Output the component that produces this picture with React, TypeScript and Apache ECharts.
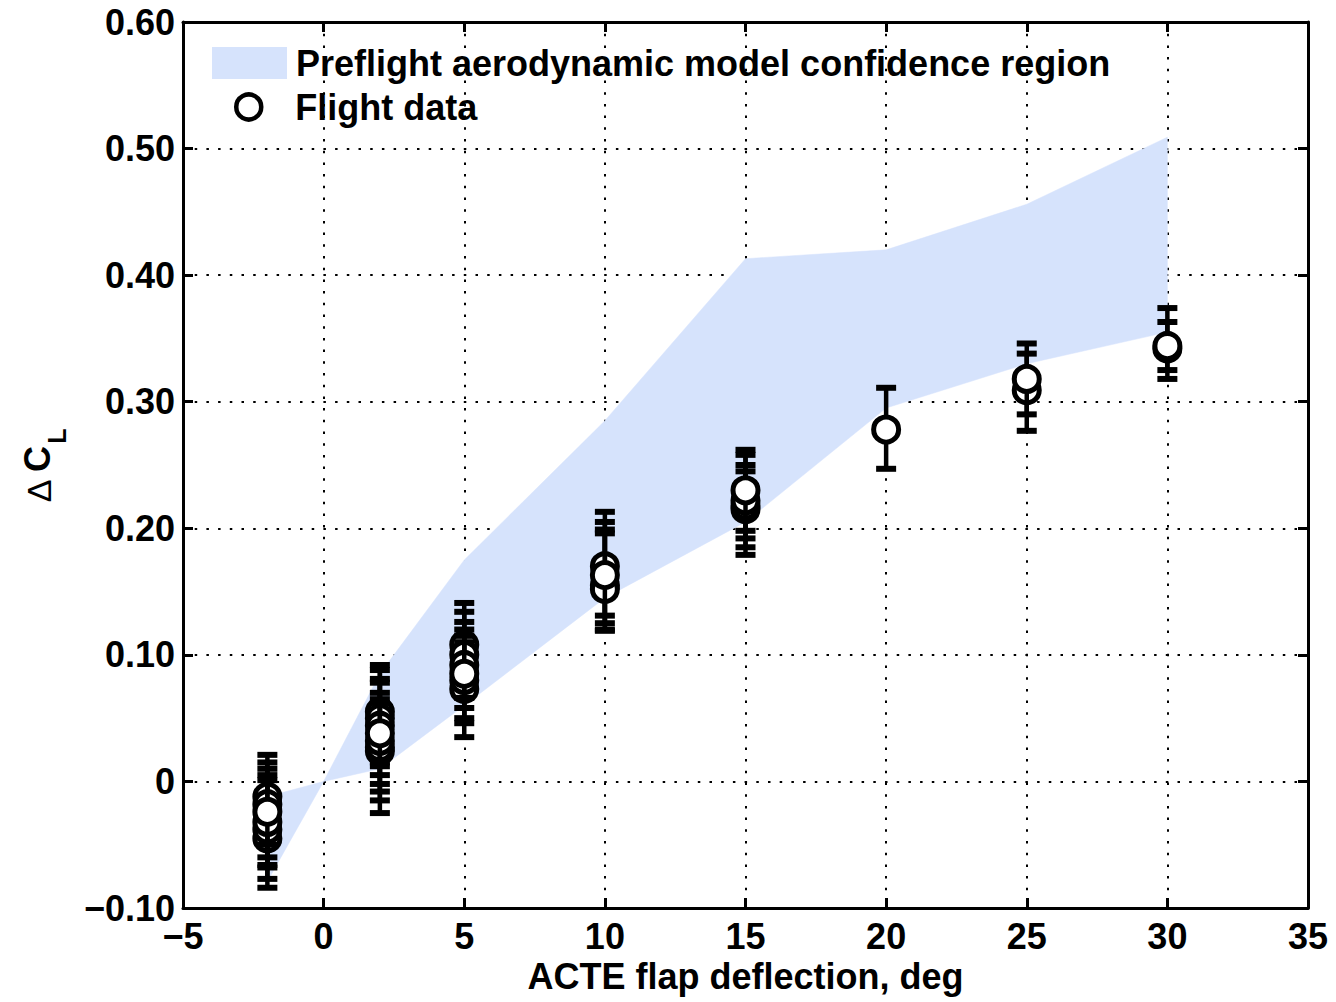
import { useEffect, useRef } from 'react';
import * as echarts from 'echarts';

// Confidence region (preflight aerodynamic model)
const bandX = [-2, 0, 2, 5, 10, 15, 20, 25, 30];
const bandUpper = [-0.012, 0, 0.085, 0.175, 0.285, 0.413, 0.42, 0.456, 0.509];
const bandLower = [-0.079, 0, 0.01, 0.06, 0.145, 0.205, 0.295, 0.33, 0.355];

// Flight data with error bounds
const flightX = [
  -2, -2, -2, -2, -2, -2,
  2, 2, 2, 2, 2, 2, 2,
  5, 5, 5, 5, 5, 5,
  10, 10, 10, 10,
  15, 15, 15, 15,
  20,
  25, 25,
  30, 30,
];
const flightY = [
  -0.045, -0.012, -0.038, -0.018, -0.032, -0.024,
  0.055, 0.024, 0.05, 0.027, 0.044, 0.032, 0.038,
  0.108, 0.073, 0.1, 0.08, 0.092, 0.085,
  0.155, 0.17, 0.152, 0.163,
  0.215, 0.218, 0.222, 0.23,
  0.278,
  0.309, 0.318,
  0.342, 0.344,
];
const flightLow = [
  -0.084, -0.05, -0.077, -0.06, -0.068, -0.066,
  0.015, -0.025, 0.012, -0.015, 0.005, -0.008, -0.002,
  0.075, 0.035, 0.066, 0.046, 0.058, 0.05,
  0.119, 0.131, 0.12, 0.125,
  0.179, 0.192, 0.185, 0.198,
  0.247,
  0.277, 0.29,
  0.325, 0.318,
];
const flightHigh = [
  -0.006, 0.021, 0.001, 0.01, 0.005, 0.015,
  0.092, 0.062, 0.088, 0.065, 0.081, 0.07, 0.078,
  0.141, 0.11, 0.134, 0.115, 0.126, 0.12,
  0.199, 0.213, 0.196, 0.205,
  0.25, 0.245, 0.258, 0.262,
  0.311,
  0.338, 0.346,
  0.363, 0.374,
];

const xTickMin = -5;
const xTickMax = 35;
const xTickStep = 5;
const yTickMin = -0.1;
const yTickMax = 0.6;
const yTickStep = 0.1;

const BAND_NAME = 'Preflight aerodynamic model confidence region';
const FLIGHT_NAME = 'Flight data';
const X_TITLE = 'ACTE flap deflection, deg';

const FONT = '"Liberation Sans", Arial, Helvetica, sans-serif';
const BAND_COLOR = '#d6e3fc';

export default function App() {
  const ref = useRef<HTMLDivElement>(null);
  useEffect(() => {
    const chart = echarts.init(ref.current!, null, { renderer: 'svg' });
    const bandData = bandX.map((x, i) => [x, bandLower[i], bandUpper[i]]);
    const flightData = flightX.map((x, i) => [x, flightY[i], flightLow[i], flightHigh[i]]);

    const labelStyle = { fontFamily: FONT, fontSize: 36, fontWeight: 'bold', color: '#000' };
    const gridLine = { show: true, lineStyle: { color: '#000', width: 2, type: [2.5, 9.2] } };
    const frameLine = { show: true, onZero: false, lineStyle: { color: '#000', width: 3 } };
    const tick = { show: true, inside: true, length: 10, lineStyle: { color: '#000', width: 3 } };

    const option: any = {
      animation: false,
      backgroundColor: '#fff',
      grid: { left: 183, right: 28, top: 22, bottom: 94, containLabel: false },
      xAxis: [
        {
          type: 'value', position: 'bottom', min: xTickMin, max: xTickMax, interval: xTickStep,
          axisLine: frameLine, axisTick: tick, splitLine: gridLine,
          axisLabel: {
            ...labelStyle, margin: 10,
            formatter: (v: number) => (v < 0 ? '\u2212' + Math.abs(v) : String(v)),
          },
          name: X_TITLE, nameLocation: 'middle', nameGap: 47,
          nameTextStyle: { ...labelStyle },
        },
        {
          type: 'value', position: 'top', min: xTickMin, max: xTickMax, interval: xTickStep,
          axisLine: frameLine, axisTick: tick, splitLine: { show: false }, axisLabel: { show: false },
        },
      ],
      yAxis: [
        {
          type: 'value', position: 'left', min: yTickMin, max: yTickMax, interval: yTickStep,
          axisLine: frameLine, axisTick: tick, splitLine: gridLine,
          axisLabel: {
            ...labelStyle, margin: 8,
            formatter: (v: number) =>
              Math.abs(v) < 1e-9 ? '0' : (v < 0 ? '\u2212' : '') + Math.abs(v).toFixed(2),
          },
        },
        {
          type: 'value', position: 'right', min: yTickMin, max: yTickMax, interval: yTickStep,
          axisLine: frameLine, axisTick: tick, splitLine: { show: false }, axisLabel: { show: false },
        },
      ],
      legend: [
        {
          left: 212, top: 45, padding: 0, orient: 'vertical', selectedMode: false,
          itemWidth: 75, itemHeight: 32,
          data: [{ name: BAND_NAME, icon: 'rect', itemStyle: { color: BAND_COLOR, borderWidth: 0 } }],
          textStyle: { ...labelStyle, lineHeight: 32, padding: [0, 0, 0, 4] },
        },
        {
          left: 234, top: 89, padding: 0, orient: 'vertical', selectedMode: false,
          itemWidth: 75, itemHeight: 25,
          data: [{ name: FLIGHT_NAME, icon: 'circle', itemStyle: { color: '#fff', borderColor: '#000', borderWidth: 4.5 } }],
          textStyle: { ...labelStyle, lineHeight: 25, padding: [0, 0, 0, 4] },
        },
      ],
      graphic: [
        {
          type: 'text', x: 39, y: 491, rotation: Math.PI / 2,
          style: { text: '\u0394', font: `normal 34px ${FONT}`, fill: '#000', textAlign: 'center', textVerticalAlign: 'middle' },
        },
        {
          type: 'text', x: 37, y: 459, rotation: Math.PI / 2,
          style: { text: 'C', font: `bold 36px ${FONT}`, fill: '#000', textAlign: 'center', textVerticalAlign: 'middle' },
        },
        {
          type: 'text', x: 57, y: 436, rotation: Math.PI / 2,
          style: { text: 'L', font: `bold 25px ${FONT}`, fill: '#000', textAlign: 'center', textVerticalAlign: 'middle' },
        },
      ],
      series: [
        {
          name: BAND_NAME,
          type: 'custom',
          data: bandData,
          encode: { x: 0, y: [1, 2] },
          itemStyle: { color: BAND_COLOR },
          z: 1,
          renderItem: (params: any, api: any) => {
            if (params.dataIndex !== 0) return null;
            const upper = bandData.map((d) => api.coord([d[0], d[2]]));
            const lower = bandData.map((d) => api.coord([d[0], d[1]])).reverse();
            return {
              type: 'polygon',
              shape: { points: upper.concat(lower) },
              style: { fill: BAND_COLOR, stroke: BAND_COLOR, lineWidth: 0.5 },
            };
          },
        },
        {
          name: FLIGHT_NAME,
          type: 'custom',
          data: flightData,
          encode: { x: 0, y: [1, 2, 3] },
          itemStyle: { color: '#fff', borderColor: '#000' },
          z: 3,
          renderItem: (params: any, api: any) => {
            const x = api.value(0);
            const p = api.coord([x, api.value(1)]);
            const pl = api.coord([x, api.value(2)]);
            const ph = api.coord([x, api.value(3)]);
            const cw = 10;
            return {
              type: 'group',
              children: [
                { type: 'line', shape: { x1: p[0], y1: ph[1], x2: p[0], y2: pl[1] }, style: { stroke: '#000', lineWidth: 4.5 } },
                { type: 'line', shape: { x1: p[0] - cw, y1: ph[1], x2: p[0] + cw, y2: ph[1] }, style: { stroke: '#000', lineWidth: 6 } },
                { type: 'line', shape: { x1: p[0] - cw, y1: pl[1], x2: p[0] + cw, y2: pl[1] }, style: { stroke: '#000', lineWidth: 6 } },
                { type: 'circle', shape: { cx: p[0], cy: p[1], r: 12.5 }, style: { fill: '#fff', stroke: '#000', lineWidth: 5 } },
              ],
            };
          },
        },
      ],
    };
    chart.setOption(option);
    return () => chart.dispose();
  }, []);
  return (
    <div
      ref={ref}
      style={{ position: 'fixed', left: 0, top: 0, width: 1336, height: 1002, background: '#fff' }}
    />
  );
}
